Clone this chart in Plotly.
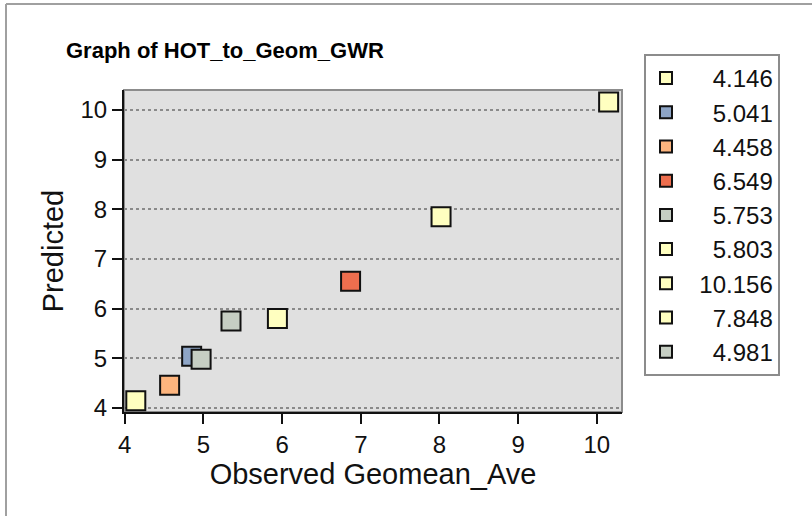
import plotly.graph_objects as go

# Data
labels = ["4.146", "5.041", "4.458", "6.549", "5.753", "5.803", "10.156", "7.848", "4.981"]
observed = [4.14, 4.85, 4.57, 6.87, 5.35, 5.94, 10.15, 8.02, 4.97]
predicted = [4.146, 5.041, 4.458, 6.549, 5.753, 5.803, 10.156, 7.848, 4.981]
colors = ["#FFFFC0", "#8EA5C6", "#FDB57E", "#EE6E4E", "#C6CEC3",
          "#FFFFC0", "#FFFFC0", "#FFFFC0", "#C6CEC3"]
x_ticks = [4, 5, 6, 7, 8, 9, 10]
y_ticks = [4, 5, 6, 7, 8, 9, 10]

FONT = "Liberation Sans, Arial, sans-serif"

fig = go.Figure()
maxlen = max(len(s) for s in labels)
for lab, xv, yv, c in zip(labels, observed, predicted, colors):
    name = "\u2007" + "\u2007" * (maxlen - len(lab)) + lab
    fig.add_trace(go.Scatter(
        x=[xv], y=[yv], mode="markers", name=name, legendgroup=lab,
        marker=dict(symbol="square", size=19, color=c,
                    line=dict(color="#111111", width=2)),
    ))

L, R, T, B = 124, 190, 90, 104
W, H = 812, 516
pw = W - L - R
ph = H - T - B

def px(xp):
    return (xp - L) / pw

def py(yp):
    return (H - B - yp) / ph

fig.update_layout(
    width=W, height=H,
    margin=dict(l=L, r=R, t=T, b=B, pad=0, autoexpand=False),
    paper_bgcolor="white",
    plot_bgcolor="#E0E0E0",
    font=dict(family=FONT, color="#111111"),
    title=dict(text="<b>Graph of HOT_to_Geom_GWR</b>", x=66 / W, xanchor="left",
               y=1 - 50 / H, yanchor="middle", xref="container", yref="container",
               font=dict(size=22, color="#000000", family=FONT)),
    showlegend=True,
    legend=dict(x=px(644), xanchor="left", y=py(54), yanchor="top",
                bordercolor="#8C8C8C", borderwidth=2, bgcolor="white",
                font=dict(size=24, family=FONT, color="#111111"),
                tracegroupgap=0, itemsizing="constant", maxheight=480),
    xaxis=dict(range=[3.99, 10.32], tickvals=x_ticks, ticks="outside", ticklen=10,
               tickwidth=2, tickcolor="#111111", showline=True, linecolor="#111111",
               linewidth=2, showgrid=False, zeroline=False,
               tickfont=dict(size=24, family=FONT),
               title=dict(text="Observed Geomean_Ave", font=dict(size=29, family=FONT),
                          standoff=4)),
    yaxis=dict(range=[3.92, 10.40], tickvals=y_ticks, ticks="outside", ticklen=10,
               tickwidth=2, tickcolor="#111111", showline=True, linecolor="#111111",
               linewidth=2, showgrid=True, gridcolor="#8A8A8A", griddash="dot",
               gridwidth=1.5, zeroline=False,
               tickfont=dict(size=24, family=FONT),
               title=dict(text="Predicted", font=dict(size=29, family=FONT),
                          standoff=8)),
    shapes=[
        dict(type="rect", xref="paper", yref="paper", x0=0, x1=1, y0=0, y1=1,
             line=dict(color="#8C8C8C", width=2), layer="below"),
        dict(type="line", xref="paper", yref="paper", x0=px(6), x1=px(6),
             y0=py(H + 5), y1=py(4), line=dict(color="#A0A0A0", width=2)),
        dict(type="line", xref="paper", yref="paper", x0=px(6), x1=px(W + 5),
             y0=py(4), y1=py(4), line=dict(color="#A0A0A0", width=2)),
    ],
)

fig.write_html(
    "out.html",
    config={"displayModeBar": False},
    post_script="document.body.style.margin='0';document.body.style.overflow='hidden';",
)
